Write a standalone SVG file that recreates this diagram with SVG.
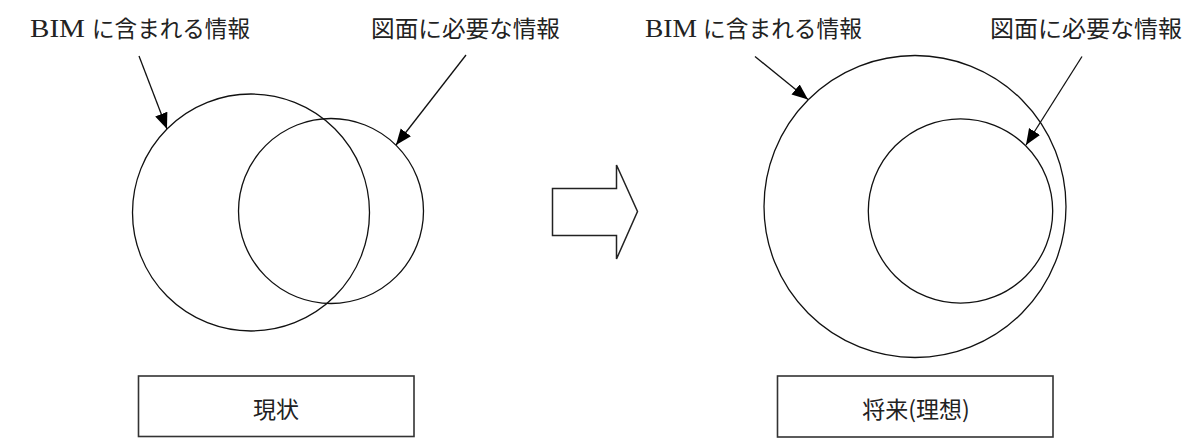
<svg xmlns="http://www.w3.org/2000/svg" width="1197" height="442" viewBox="0 0 1197 442">
<style>
  .lbl { font-family: "Noto Sans CJK JP", "Noto Sans CJK SC", sans-serif; font-size: 23px; fill: #222; }
  .lat { font-family: "Liberation Serif", serif; font-size: 26px; fill: #222; }
  .circ { fill: none; stroke: #111; stroke-width: 1.3; }
  .box { fill: #fff; stroke: #333; stroke-width: 1.6; }
  .conn { fill: none; stroke: #111; stroke-width: 1.3; }
</style>
<defs>
  <marker id="ah" markerUnits="userSpaceOnUse" markerWidth="17" markerHeight="14" refX="16" refY="6.5" orient="auto">
    <path d="M0,0 L16,6.5 L0,13 z" fill="#000"/>
  </marker>
</defs>
<rect width="1197" height="442" fill="#fff"/>

<g id="label-bim-left">
  <text class="lat" x="30" y="37" textLength="55" lengthAdjust="spacingAndGlyphs">BIM</text>
  <text class="lbl" x="92" y="37" textLength="158" lengthAdjust="spacingAndGlyphs">に含まれる情報</text>
</g>
<g id="label-drawing-left">
  <text class="lbl" x="371" y="37" textLength="189" lengthAdjust="spacingAndGlyphs">図面に必要な情報</text>
</g>
<g id="label-bim-right">
  <text class="lat" x="645" y="37" textLength="52" lengthAdjust="spacingAndGlyphs">BIM</text>
  <text class="lbl" x="703" y="37" textLength="159" lengthAdjust="spacingAndGlyphs">に含まれる情報</text>
</g>
<g id="label-drawing-right">
  <text class="lbl" x="990" y="37" textLength="192" lengthAdjust="spacingAndGlyphs">図面に必要な情報</text>
</g>

<g id="circle-bim-current">
  <circle class="circ" cx="251" cy="212.5" r="118.5"/>
</g>
<g id="circle-drawing-current">
  <circle class="circ" cx="331" cy="211" r="92.5"/>
</g>
<g id="circle-bim-future">
  <circle class="circ" cx="915" cy="206.5" r="151"/>
</g>
<g id="circle-drawing-future">
  <circle class="circ" cx="960.5" cy="211" r="92.2"/>
</g>

<g id="block-arrow">
  <path d="M552.5,188.5 L616.5,188.5 L616.5,165 L637.5,211.5 L616.5,259 L616.5,235.5 L552.5,235.5 Z" fill="#fff" stroke="#222" stroke-width="1.5" stroke-linejoin="miter"/>
</g>

<g id="box-current">
  <rect class="box" x="138.5" y="376" width="275.5" height="60.5"/>
  <text class="lbl" x="276" y="418" text-anchor="middle">現状</text>
</g>
<g id="box-future">
  <rect class="box" x="777.5" y="376" width="275.5" height="61"/>
  <text class="lbl" x="916" y="418" text-anchor="middle">将来(理想)</text>
</g>

<g id="connectors">
  <line class="conn" x1="139" y1="56" x2="167" y2="129" marker-end="url(#ah)"/>
  <line class="conn" x1="466" y1="55" x2="396" y2="145" marker-end="url(#ah)"/>
  <line class="conn" x1="755" y1="56.5" x2="808" y2="99.5" marker-end="url(#ah)"/>
  <line class="conn" x1="1082" y1="56.5" x2="1026" y2="145" marker-end="url(#ah)"/>
</g>
</svg>
